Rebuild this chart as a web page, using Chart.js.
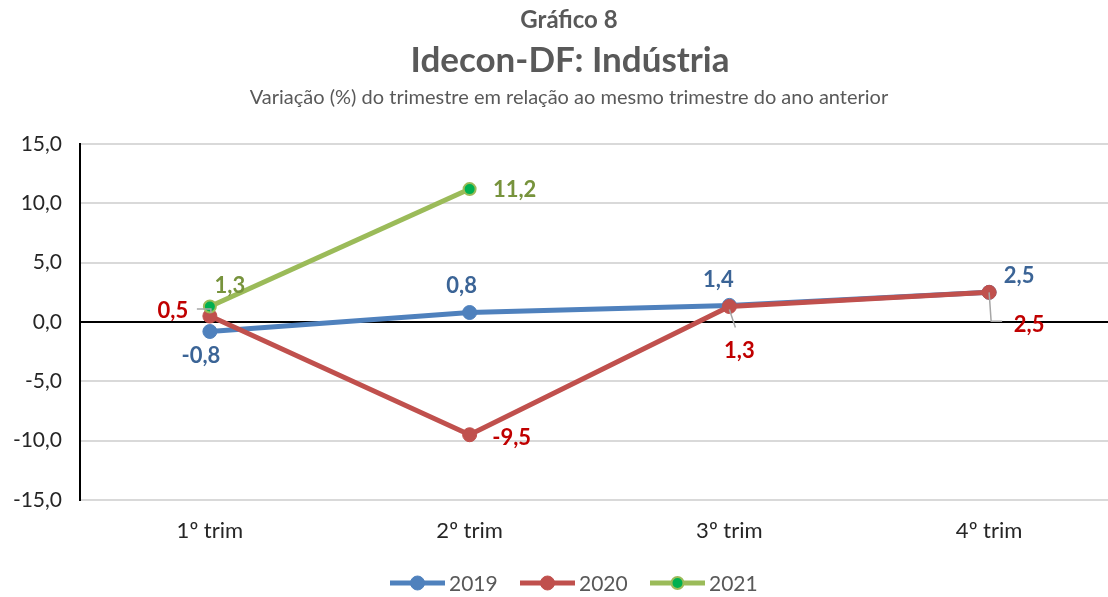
<!DOCTYPE html>
<html>
<head>
<meta charset="utf-8">
<script src="https://cdn.jsdelivr.net/npm/chart.js@4"></script>
<style>
  html, body { margin: 0; padding: 0; background: #fff; overflow: hidden; }
  #wrap { width: 1127px; height: 597px; }
</style>
</head>
<body>
<div id="wrap"><canvas id="idecon"></canvas></div>
<script>
const categories = ["1º trim", "2º trim", "3º trim", "4º trim"];
const seriesNames = ["2019", "2020", "2021"];
const values2019 = [-0.8, 0.8, 1.4, 2.5];
const values2020 = [0.5, -9.5, 1.3, 2.5];
const values2021 = [1.3, 11.2, null, null];
const yTicks = [-15, -10, -5, 0, 5, 10, 15];

const FONT = "Lato, 'Open Sans', sans-serif";
const fmt = v => v.toFixed(1).replace(".", ",");

// label offsets (px) relative to each point, plus optional leader lines
const labelStyle = [
    { color: "#3b6496", offsets: [[-9, 24], [-8, -27], [-11, -25], [30, -16]] },
    { color: "#c00000", offsets: [[-37, -5], [42, 3], [10, 44], [40, 33]],
      leaders: { 0: [[-13, -7], [1, -7], [1, -3]], 2: [[0, 3], [6, 21]], 3: [[0, 0], [2, 29], [13, 29]] } },
    { color: "#77933c", offsets: [[20, -21], [45, 1]] }
];

const extras = {
    id: "extras",
    afterDatasetsDraw(chart) {
        const ctx = chart.ctx;
        ctx.save();
        // leader lines + data labels
        chart.data.datasets.forEach((ds, i) => {
            const meta = chart.getDatasetMeta(i);
            const st = labelStyle[i];
            ds.data.forEach((v, j) => {
                if (v === null) return;
                const p = meta.data[j];
                if (st.leaders && st.leaders[j]) {
                    ctx.strokeStyle = "#a6a6a6";
                    ctx.lineWidth = 1.5;
                    ctx.beginPath();
                    st.leaders[j].forEach((q, k) => {
                        if (k === 0) ctx.moveTo(p.x + q[0], p.y + q[1]);
                        else ctx.lineTo(p.x + q[0], p.y + q[1]);
                    });
                    ctx.stroke();
                }
                const o = st.offsets[j];
                ctx.fillStyle = st.color;
                ctx.font = "bold 22px " + FONT;
                ctx.textAlign = "center";
                ctx.textBaseline = "middle";
                ctx.fillText(fmt(v), p.x + o[0], p.y + o[1]);
            });
        });
        ctx.restore();
    },
    afterDraw(chart) {
        const ctx = chart.ctx;
        ctx.save();
        ctx.textAlign = "center";
        ctx.textBaseline = "middle";
        ctx.fillStyle = "#595959";
        ctx.font = "bold 24px " + FONT;
        ctx.fillText("Gráfico 8", 569, 20);
        ctx.font = "bold 35px " + FONT;
        ctx.fillText("Idecon-DF: Indústria", 570, 61);
        ctx.font = "20px " + FONT;
        ctx.fillText("Variação (%) do trimestre em relação ao mesmo trimestre do ano anterior", 569, 98);

        // legend: line with marker, then name
        const starts = [390, 520, 650];
        chart.data.datasets.forEach((ds, i) => {
            const x = starts[i], y = 583;
            ctx.strokeStyle = ds.borderColor;
            ctx.lineWidth = 5;
            ctx.beginPath();
            ctx.moveTo(x, y);
            ctx.lineTo(x + 55, y);
            ctx.stroke();
            ctx.beginPath();
            ctx.arc(x + 27.5, y, ds.pointRadius, 0, Math.PI * 2);
            ctx.fillStyle = ds.pointBackgroundColor;
            ctx.fill();
            ctx.lineWidth = ds.pointBorderWidth;
            ctx.strokeStyle = ds.pointBorderColor;
            ctx.stroke();
            ctx.fillStyle = "#595959";
            ctx.font = "21px " + FONT;
            ctx.textAlign = "left";
            ctx.fillText(ds.label, x + 59, y + 1);
        });
        ctx.restore();
    }
};

new Chart(document.getElementById("idecon"), {
    type: "line",
    data: {
        labels: categories,
        datasets: [
            {
                label: seriesNames[0], data: values2019, order: 2,
                borderColor: "#4f81bd", borderWidth: 5,
                pointRadius: 7, pointBackgroundColor: "#4f81bd",
                pointBorderColor: "#4f81bd", pointBorderWidth: 1
            },
            {
                label: seriesNames[1], data: values2020, order: 1,
                borderColor: "#c0504d", borderWidth: 5,
                pointRadius: 7, pointBackgroundColor: "#c0504d",
                pointBorderColor: "#c0504d", pointBorderWidth: 1
            },
            {
                label: seriesNames[2], data: values2021, order: 0,
                borderColor: "#9bbb59", borderWidth: 5,
                pointRadius: 6, pointBackgroundColor: "#00b050",
                pointBorderColor: "#9bbb59", pointBorderWidth: 2
            }
        ]
    },
    options: {
        responsive: true,
        maintainAspectRatio: false,
        animation: false,
        layout: { padding: { top: 144, right: 0, left: 0, bottom: 0 } },
        plugins: {
            legend: { display: false },
            tooltip: { enabled: false }
        },
        scales: {
            x: {
                offset: true,
                grid: { display: false, drawTicks: false },
                border: { display: false },
                ticks: { color: "#262626", font: { family: FONT, size: 22 }, padding: 18 },
                afterFit(scale) { scale.height = 97; }
            },
            y: {
                min: -15, max: 15,
                afterBuildTicks(scale) { scale.ticks = yTicks.map(v => ({ value: v })); },
                grid: {
                    drawTicks: false,
                    color: c => c.tick && c.tick.value === 0 ? "#000000" : "#d9d9d9",
                    lineWidth: 2
                },
                border: { display: true, color: "#000000", width: 2 },
                ticks: {
                    color: "#262626", font: { family: FONT, size: 21 }, padding: 18,
                    callback: v => fmt(v)
                },
                afterFit(scale) { scale.width = 80; }
            }
        }
    },
    plugins: [extras]
});
</script>
</body>
</html>
